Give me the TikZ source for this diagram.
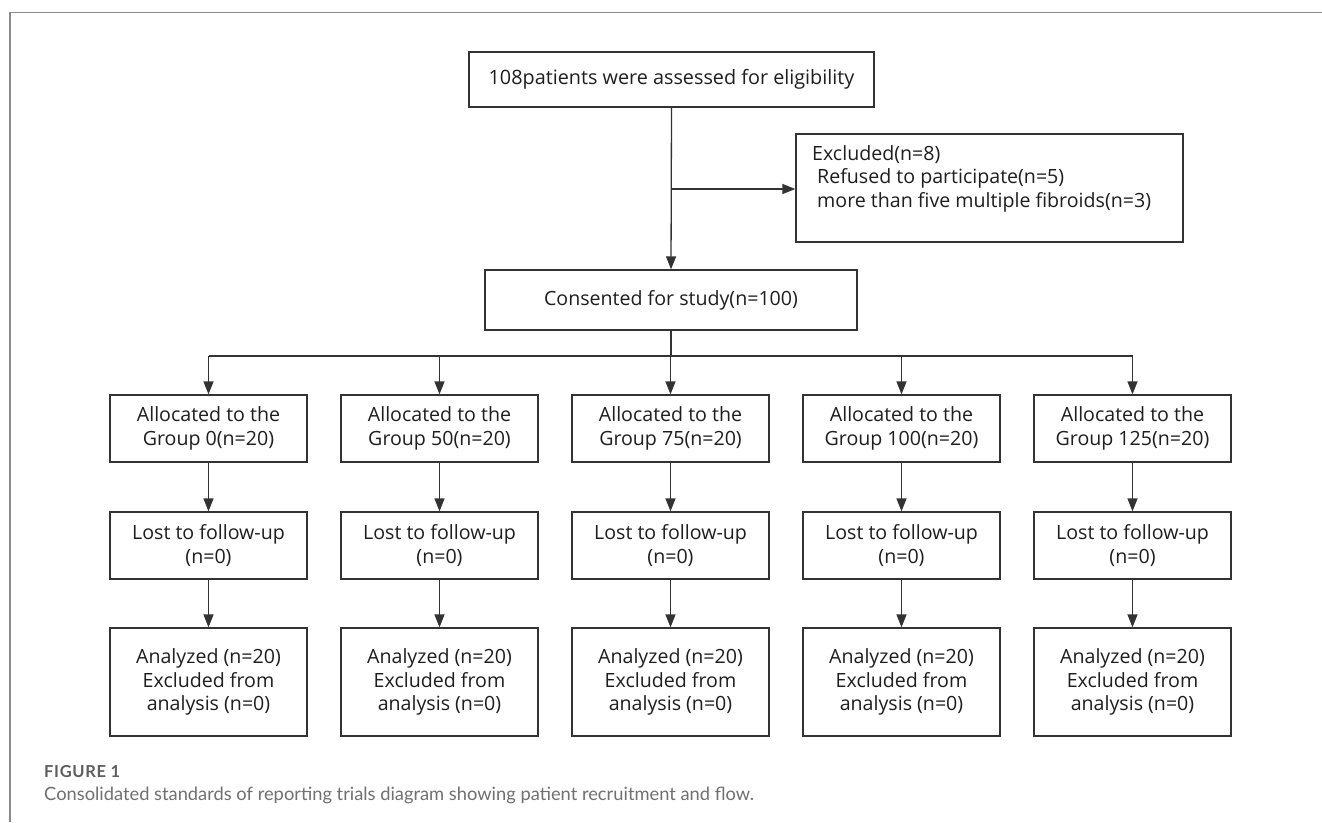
\documentclass[tikz,border=0pt]{standalone}
\usepackage{fontspec}
\setmainfont{Open Sans}
\newfontfamily\capfont{Lato}
\newfontfamily\capfontb[LetterSpace=4]{Lato Bold}
\usetikzlibrary{arrows.meta}
\definecolor{lncol}{HTML}{333333}
\definecolor{txtcol}{HTML}{1E1E1E}
\definecolor{framecol}{HTML}{8A8A8A}
\definecolor{capcol}{HTML}{5E5E5E}
\definecolor{capcolb}{HTML}{707070}
\begin{document}
\begin{tikzpicture}[x=1pt,y=-1pt,
  box/.style={draw=lncol, line width=1.3pt, fill=white, align=center, inner sep=0pt,
    font={\fontsize{19.6}{23.5}\selectfont}, text=txtcol},
  wire/.style={draw=lncol, line width=1.3pt},
  arr/.style={wire, -{Triangle[length=13pt,width=10pt]}}]
\useasboundingbox (0,0) rectangle (1322,822);
\fill[white] (0,0) rectangle (1322,822);
\draw[framecol, line width=1.6pt] (1322,12.3) -- (9.7,12.3) -- (9.7,822);

\node[box, minimum width=405pt, minimum height=55pt, font={\fontsize{19.8}{23.5}\selectfont}] (top) at (671.5,79.5)
  {108patients were assessed for eligibility};
\node[box, minimum width=387pt, minimum height=108pt] (excl) at (989.5,188) {};
\node[anchor=north west, align=left, inner sep=0pt, text=txtcol,
  font={\fontsize{19.6}{23.5}\selectfont}] (exclt) at (812,145)
  {Excluded(n=8)\\\hspace*{5pt}Refused to participate(n=5)\\\hspace*{5pt}more than five multiple fibroids(n=3)};
\node[box, minimum width=372pt, minimum height=60pt] (cons) at (671,300)
  {Consented for study(n=100)};

\coordinate (br) at (671,189);
\coordinate (split) at (671,356);
\draw[arr] (top.south) -- (cons.north);
\draw[arr] (br) -- (br -| excl.west);

\foreach \i/\g [evaluate=\i as \cx using 208.5+231*(\i-1)] in {1/0,2/50,3/75,4/100,5/125} {
  \node[box, minimum width=197pt, minimum height=67pt] (a\i) at (\cx,428.5)
    {Allocated to the\\Group \g(n=20)};
  \node[box, minimum width=197pt, minimum height=67pt] (l\i) at (\cx,545.5)
    {Lost to follow-up\\(n=0)};
  \node[box, minimum width=197pt, minimum height=108pt] (z\i) at (\cx,682)
    {Analyzed (n=20)\\Excluded from\\analysis (n=0)};
  \draw[arr] (a\i.north |- split) -- (a\i.north);
  \draw[arr] (a\i.south) -- (l\i.north);
  \draw[arr] (l\i.south) -- (z\i.north);
}
\draw[wire] (cons.south) -- (split);
\draw[wire] (a1.north |- split) -- (a5.north |- split);

\node[anchor=base west, inner sep=0pt, text=capcol, font={\capfontb\fontsize{16.5}{18}\selectfont}] (fig) at (44,777) {FIGURE 1};
\node[anchor=base west, inner sep=0pt, text=capcolb, font={\capfont\fontsize{18.3}{20}\selectfont}] (cap) at (44,800)
  {Consolidated standards of reporting trials diagram showing patient recruitment and flow.};
\end{tikzpicture}
\end{document}
